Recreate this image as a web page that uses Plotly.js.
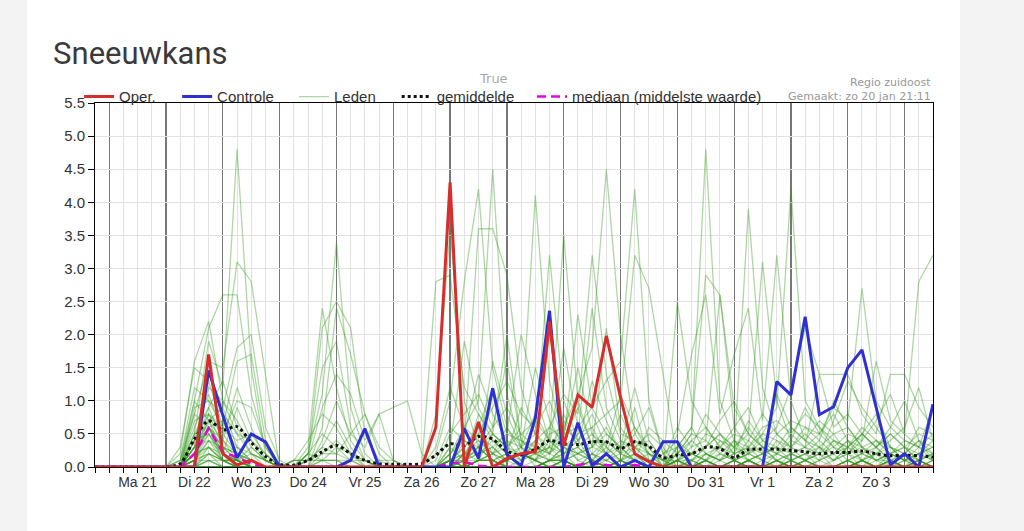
<!DOCTYPE html>
<html><head><meta charset="utf-8">
<script src="https://cdn.plot.ly/plotly-3.0.1.min.js"></script>
<style>
html,body{margin:0;padding:0;background:#f3f3f3;width:1024px;height:531px;overflow:hidden;}
#chart{position:absolute;left:27px;top:0;width:933px;height:531px;background:#fff;}
</style></head><body><div id="chart"></div>
<script>
// ---- tijdas (6-uurlijkse stappen) ----
const tijden = [
'2019-01-20 18:00',
'2019-01-21 00:00','2019-01-21 06:00','2019-01-21 12:00','2019-01-21 18:00',
'2019-01-22 00:00','2019-01-22 06:00','2019-01-22 12:00','2019-01-22 18:00',
'2019-01-23 00:00','2019-01-23 06:00','2019-01-23 12:00','2019-01-23 18:00',
'2019-01-24 00:00','2019-01-24 06:00','2019-01-24 12:00','2019-01-24 18:00',
'2019-01-25 00:00','2019-01-25 06:00','2019-01-25 12:00','2019-01-25 18:00',
'2019-01-26 00:00','2019-01-26 06:00','2019-01-26 12:00','2019-01-26 18:00',
'2019-01-27 00:00','2019-01-27 06:00','2019-01-27 12:00','2019-01-27 18:00',
'2019-01-28 00:00','2019-01-28 06:00','2019-01-28 12:00','2019-01-28 18:00',
'2019-01-29 00:00','2019-01-29 06:00','2019-01-29 12:00','2019-01-29 18:00',
'2019-01-30 00:00','2019-01-30 06:00','2019-01-30 12:00','2019-01-30 18:00',
'2019-01-31 00:00','2019-01-31 06:00','2019-01-31 12:00','2019-01-31 18:00',
'2019-02-01 00:00','2019-02-01 06:00','2019-02-01 12:00','2019-02-01 18:00',
'2019-02-02 00:00','2019-02-02 06:00','2019-02-02 12:00','2019-02-02 18:00',
'2019-02-03 00:00','2019-02-03 06:00','2019-02-03 12:00','2019-02-03 18:00',
'2019-02-04 00:00','2019-02-04 06:00','2019-02-04 12:00'];
const middernacht = ['2019-01-21','2019-01-22','2019-01-23','2019-01-24','2019-01-25','2019-01-26','2019-01-27','2019-01-28','2019-01-29','2019-01-30','2019-01-31','2019-02-01','2019-02-02','2019-02-03','2019-02-04'];
const dagMidden = ['2019-01-21 12:00','2019-01-22 12:00','2019-01-23 12:00','2019-01-24 12:00','2019-01-25 12:00','2019-01-26 12:00','2019-01-27 12:00','2019-01-28 12:00','2019-01-29 12:00','2019-01-30 12:00','2019-01-31 12:00','2019-02-01 12:00','2019-02-02 12:00','2019-02-03 12:00'];
const dagen = ['Ma 21','Di 22','Wo 23','Do 24','Vr 25','Za 26','Zo 27','Ma 28','Di 29','Wo 30','Do 31','Vr 1','Za 2','Zo 3'];
const yTicks = [0,0.5,1,1.5,2,2.5,3,3.5,4,4.5,5,5.5];

// ---- reeksen ----
const oper = [0,0,0,0,0,0, 0,0,1.7,0.2,0.03,0.1,0,0, 0,0,0,0,0,0,0,0,0,0,
 0.6,4.3,0,0.68,0,0.13,0.2,0.23,2.2,0.32,1.09,0.9,1.98,1.05,0.2,0.08,0,
 0,0,0,0,0,0,0,0,0,0,0,0,0,0,0,0,0,0,0];
const controle = [0,0,0,0,0,0, 0,0,1.46,0.78,0.14,0.5,0.38,0, 0,0,0,0,0.1,0.58,0,0,0,0,
 0,0,0.58,0.13,1.19,0.19,0.02,0.74,2.36,0,0.67,0.02,0.2,0,0.1,0,0.38,
 0.38,0,0,0,0,0,0,1.29,1.09,2.27,0.79,0.91,1.5,1.77,0.9,0.03,0.2,0,0.95];
const gemiddelde = [0,0,0,0,0,0, 0.05,0.42,0.7,0.56,0.61,0.37,0.16,0.04, 0.03,0.1,0.23,0.33,0.2,0.1,0.05,0.04,0.04,0.05,
 0.18,0.35,0.32,0.46,0.42,0.24,0.18,0.27,0.4,0.35,0.34,0.38,0.38,0.28,0.38,0.31,0.14,
 0.18,0.2,0.3,0.28,0.14,0.26,0.27,0.27,0.25,0.23,0.2,0.22,0.22,0.24,0.2,0.17,0.18,0.17,0.15];
const mediaan = [0,0,0,0,0,0, 0,0.2,0.58,0.22,0.15,0.05,0,0, 0,0,0,0,0,0,0,0,0,0,
 0,0.05,0.08,0.02,0,0,0,0,0,0,0.03,0.06,0.03,0,0.03,0,0,
 0,0,0,0,0,0,0,0,0,0,0,0,0,0,0,0,0,0,0];

// ---- ensembleleden ----
const lid01 = [0,0,0,0,0,0, 0.2,1.6,2.2,1.0,0.5,0.2,0.1,0, 0,0,0,0,0,0,0,0,0,0, 0,0,0,0.1,0.1,0,0,0,0,0.1,0,0,0,0,0,0,0, 0,0,0,0,0,0.1,0,0,0,0,0,0,0,0.1,0,0,0,0,0];
const lid02 = [0,0,0,0,0,0, 0.1,1.0,2.1,2.6,2.6,1.1,0.3,0, 0,0.1,0.1,0.1,0.1,0,0,0,0,0, 0,0,0,0,0,0.1,0.2,0.1,0,0,0,0.1,0,0,0,0,0, 0,0,0.1,0,0,0,0,0.1,0,0,0,0,0,0,0,0.1,0,0,0];
const lid03 = [0,0,0,0,0,0, 0,0.5,1.9,1.2,4.8,1.5,0.2,0, 0,0,0,0,0,0,0,0,0,0, 0,0,0,0,0,0,0,0,0,0,0,0,0,0,0,0,0, 0,0,0,0,0.1,0,0,0,0,0.1,0,0,0,0,0,0,0,0.1,0];
const lid04 = [0,0,0,0,0,0, 0.1,0.8,1.6,1.5,3.1,2.8,1.4,0, 0,0,0,0,0,0,0,0,0,0, 0,0.1,0,0,0,0,0,0,0.1,0.1,0,0,0,0.1,0,0,0, 0,0,0,0,0,0,0,0,0,0,0,0,0,0,0,0,0,0,0];
const lid05 = [0,0,0,0,0,0, 0,0.3,1.4,0.9,1.8,2.0,0.6,0.1, 0,0.3,2.4,1.2,0.4,0.1,0,0,0,0, 0,0,0,0.1,0.1,0,0,0,0,0.1,0,0,0,0,0,0,0, 0,0,0,0,0,0.1,0,0,0,0,0,0,0,0.1,0,0,0,0,0];
const lid06 = [0,0,0,0,0,0, 0.3,1.5,1.3,0.6,1.6,1.7,0.4,0, 0,0,0,0,0,0,0,0,0,0, 0,0,0,0,0,0.1,0.2,0.1,0,0,0,0.1,0,0,0,0,0, 0.1,0,0,0,0,0,0,0,0.1,0,0,0,0.1,0,0,0,0,0,0];
const lid07 = [0,0,0,0,0,0, 0,0.4,1.2,1.0,0.7,0.3,0.1,0, 0,0,0,0,0,0,0,0,0,0, 0,0,0,0,0,0,0,0,0,0,0,0,0,0,0,0,0, 0,0,0.1,0,0,0,0,0.1,0,0,0,0,0,0,0,0.1,0,0,0];
const lid08 = [0,0,0,0,0,0, 0,0.6,1.1,0.5,1.0,0.9,0.3,0, 0,0,0,0,0,0,0,0,0,0, 0,0.1,0,0,0,0,0,0,0.1,0.1,0,0,0,0.1,0,0,0, 0,0,0,0,0.1,0,0,0,0,0.1,0,0,0,0,0,0,0,0.1,0];
const lid09 = [0,0,0,0,0,0, 0.1,1.2,1.0,0.6,0.3,0.1,0,0, 0,0.2,1.1,3.4,0.9,0.2,0,0,0,0, 0,0,0,0.1,0.1,0,0,0,0,0.1,0,0,0,0,0,0,0, 0,0,0,0,0,0,0,0,0,0,0,0,0,0,0,0,0,0,0];
const lid10 = [0,0,0,0,0,0, 0,0.9,1.0,0.8,0.5,0.4,0.2,0, 0,0,0,0,0,0,0,0,0,0, 0,0,0,0,0,0,0,0,0,0,0,0,0,0,0,0,0, 0.1,0,0,0,0,0,0,0,0.1,0,0,0,0.1,0,0,0,0,0,0];
const lid11 = [0,0,0,0,0,0, 0,0.3,0.9,1.3,0.6,0.2,0,0, 0.1,0.1,0.1,0,0,0,0,0,0,0, 0.2,1.0,2.8,4.2,1.5,0.6,0.2,0.1,0.4,0.3,0.1,0,0.2,0.3,0.1,0,0, 0,0,0,0,0,0.1,0,0,0,0,0,0,0,0.1,0,0,0,0,0];
const lid12 = [0,0,0,0,0,0, 0,0.5,0.9,0.4,0.2,0.1,0,0, 0,0,0,0,0,0,0,0,0,0, 2.8,2.9,1.2,0.8,0.5,2.0,0.4,0.2,0.3,0.1,0.2,0.4,0.2,0,0,0.1,0, 0,0,0.1,0,0,0,0,0.1,0,0,0,0,0,0,0,0.1,0,0,0];
const lid13 = [0,0,0,0,0,0, 0,0.7,0.8,0.3,0.1,0,0,0, 0,0,0,0,0,0,0,0,0,0, 0.1,0.6,0.4,3.6,3.6,2.9,1.2,0.5,0.2,0.8,0.3,0.1,0,0.1,0.2,0,0, 0,0,0,0,0,0,0,0,0,0,0,0,0,0,0,0,0,0,0];
const lid14 = [0,0,0,0,0,0, 0,0.2,0.8,0.6,0.4,0.5,0.2,0, 0,0.1,2.1,2.5,2.1,0.5,0.1,0,0,0, 0,0.3,1.9,0.9,0.5,0.3,0.6,4.1,1.3,0.4,0.2,0.3,0.6,0.2,0.1,0,0, 0,0,0,0,0.1,0,0,0,0,0.1,0,0,0,0,0,0,0,0.1,0];
const lid15 = [0,0,0,0,0,0, 0,0.4,0.8,0.5,0.2,0,0,0, 0,0,0,0,0,0,0,0,0,0, 0,0.2,0.5,1.4,0.8,0.4,0.3,0.5,3.2,1.0,0.4,0.1,0.3,0.1,0.4,0.2,0, 0.1,0,0,0,0,0,0,0,0.1,0,0,0,0.1,0,0,0,0,0,0];
const lid16 = [0,0,0,0,0,0, 0,0.3,0.7,0.4,1.2,0.6,0.1,0, 0,0,0.1,0.1,0,0,0.1,0.1,0,0, 0,0.1,0.3,0.6,1.2,0.5,2.0,1.1,0.4,3.5,1.0,0.3,0.2,0.4,0.2,0.1,0, 0,0,0,0,0,0,0,0,0,0,0,0,0,0,0,0,0,0,0];
const lid17 = [0,0,0,0,0,0, 0,1.0,0.7,0.2,0.1,0,0,0, 0,0,0,0,0,0,0,0,0,0, 0,0,0.2,0.5,0.9,1.3,0.8,0.6,1.0,0.4,2.3,0.9,0.5,0.3,0.6,0.2,0.1, 0,0,0,0,0,0.1,0,0,0,0,0,0,0,0.1,0,0,0,0,0];
const lid18 = [0,0,0,0,0,0, 0,0.2,0.7,0.9,0.3,0.2,0.1,0, 0,0,0.6,2.4,1.7,0.8,0.2,0,0,0, 0,0.1,0.1,0.3,0.5,0.3,0.2,0.4,0.6,1.1,0.8,3.2,1.4,0.5,0.4,0.3,0, 0,0,0.1,0,0,0,0,0.1,0,0,0,0,0,0,0,0.1,0,0,0];
const lid19 = [0,0,0,0,0,0, 0,0.3,0.6,0.2,0.1,0.3,0.1,0, 0,0,0,0,0,0,0,0,0,0, 0,0,0.2,0.4,0.2,0.1,0.3,0.2,0.5,0.6,1.1,1.8,4.5,2.0,0.5,0.2,0.1, 0,0,0,0,0.1,0,0,0,0,0.1,0,0,0,0,0,0,0,0.1,0];
const lid20 = [0,0,0,0,0,0, 0,0.2,0.6,0.3,0.2,0.1,0,0, 0,0,0,0,0,0,0,0,0,0, 0,0,0.1,0.2,0.3,0.5,0.4,0.3,0.2,0.5,0.6,0.9,1.3,1.6,4.2,1.0,0.2, 0,0,0,0,0,0,0,0,0,0,0,0,0,0,0,0,0,0,0];
const lid21 = [0,0,0,0,0,0, 0,0.8,0.6,0.4,0.1,0,0,0, 0,0.2,1.5,1.9,0.6,0.1,0,0,0,0, 0,0,0,0.1,0.2,0.3,0.5,0.7,0.4,0.2,0.5,0.6,0.8,1.0,3.2,2.7,1.4, 0.1,0,0,0,0,0,0,0,0.1,0,0,0,0.1,0,0,0,0,0,0];
const lid22 = [0,0,0,0,0,0, 0,0.2,0.6,0.2,0.9,0.4,0.1,0, 0,0,0,0,0,0,0,0,0,0, 0.3,1.2,0.6,0.4,0.2,0.1,0,0,0.1,0.3,0.5,2.4,0.9,0.4,0.3,0.5,0.3, 0,0,0,0,0,0.1,0,0,0,0,0,0,0,0.1,0,0,0,0,0];
const lid23 = [0,0,0,0,0,0, 0,0.1,0.6,0.7,0.2,0.1,0,0, 0,0,0,0,0,0,0,0,0,0, 0,0.5,0.8,1.1,0.6,0.9,0.5,0.3,0.2,0.1,0,0.2,0.4,0.2,0.1,0.6,0.4, 0.2,0.5,4.8,1.0,0.4,0.3,0.2,0.5,0.3,0.1,0.2,0.4,0.3,0.1,0.2,0.3,0.1,0.2,0.3];
const lid24 = [0,0,0,0,0,0, 0,0.5,0.6,0.1,0,0,0,0, 0,0,0,0,0,0,0,0,0,0, 0,0.2,0.4,0.2,1.6,0.8,0.3,1.5,0.7,0.3,0.2,0.1,0.1,0,0.2,0.1,0, 2.5,1.0,0.6,0.3,0.2,3.9,1.2,0.5,0.3,0.6,0.4,0.2,0.3,0.5,0.3,0.1,0.2,0.1,0.2];
const lid25 = [0,0,0,0,0,0, 0,0.2,0.6,0.3,0.1,0,0,0, 0,0.1,0.9,1.4,1.1,0.4,0.8,0.9,1.0,0.2, 0,0,0.1,0.8,0.4,0.2,0.1,0.3,2.0,0.6,0.4,0.8,0.3,0.1,0,0,0, 0.3,0.6,2.9,2.6,0.9,0.5,3.1,1.0,0.4,0.3,0.5,0.8,0.4,0.2,0.3,0.5,0.3,0.1,0.2];
const lid26 = [0,0,0,0,0,0, 0,0.1,0.5,0.2,0.1,0.1,0,0, 0,0,0,0,0,0,0,0,0,0, 0,0.1,0.2,0.3,0.6,1.6,0.4,0.2,0.3,0.5,1.5,0.5,0.2,0.8,0.3,0.1,0, 0.5,1.7,2.6,0.8,1.7,2.4,0.7,3.2,1.0,0.4,0.3,0.5,0.6,0.3,0.4,0.2,0.3,0.5,0.4];
const lid27 = [0,0,0,0,0,0, 0,0.4,0.5,0.2,0.3,0.1,0,0, 0,0,0,0,0,0,0,0,0,0, 0,0,0.1,0.2,0.4,0.2,0.9,0.5,0.3,1.8,0.6,0.2,0.1,0.3,1.2,0.4,0.1, 0.1,0.3,0.4,2.6,0.6,0.3,0.5,0.9,4.2,1.0,0.6,0.4,0.3,0.5,0.8,0.3,0.2,0.4,0.3];
const lid28 = [0,0,0,0,0,0, 0,0.2,0.5,0.1,0.1,0,0,0, 0,0,0.4,1.0,0.5,0.8,0.3,0.1,0,0, 0,0,0,0.1,0.2,0.6,0.3,0.8,0.4,0.2,0.3,1.3,0.7,0.2,0.5,0.9,0.2, 0.4,0.2,0.3,0.5,0.2,0.7,0.4,0.6,1.2,2.1,1.4,1.4,1.4,0.8,0.5,1.4,1.4,0.9,0.6];
const lid29 = [0,0,0,0,0,0, 0,0.1,0.4,0.2,0,0,0,0, 0,0,0,0,0,0,0,0,0,0, 0,0.1,0.3,0.5,0.3,0.1,0.2,0.1,0.6,0.4,0.9,0.3,2.1,0.6,0.3,0.2,0.1, 0.2,0.4,0.6,0.3,0.5,0.4,0.8,0.5,0.7,0.6,0.5,0.9,0.7,2.7,1.0,0.6,0.4,0.3,0.5];
const lid30 = [0,0,0,0,0,0, 0,0.3,0.4,0.1,0.1,0.2,0.1,0, 0.1,0.4,0.8,0.6,0.2,0,0,0,0,0, 0,0,0.2,0.1,0.5,0.3,0.1,0.4,0.2,0.7,0.3,0.5,0.3,1.1,0.6,0.3,0, 0.1,0.2,0.5,0.4,0.3,0.6,0.3,0.2,0.5,0.8,0.6,0.3,0.5,0.4,1.6,0.7,0.5,2.8,3.2];
const lid31 = [0,0,0,0,0,0, 0,0.1,0.4,0.3,0.2,0,0,0, 0,0,0,0,0,0,0,0,0,0, 0,0.3,0.1,0.6,0.2,0.4,0.1,0.2,0.1,0.3,0.2,0.1,0.4,0.2,0.9,0.1,0.2, 0.3,0.6,0.2,0.1,0.4,0.2,0.5,0.4,0.2,0.3,1.4,0.6,0.8,0.5,0.3,0.6,1.0,0.4,0.2];
const lid32 = [0,0,0,0,0,0, 0,0.2,0.3,0.1,0,0,0,0, 0,0,0,0,0,0,0,0,0,0, 0,0,0.4,0.3,0.1,0.2,0.3,0.1,0.3,0.2,0.4,0.6,0.2,0.1,0.3,0.4,0.1, 0.6,0.3,0.8,0.5,0.3,0.1,0.2,1.1,0.6,0.4,0.2,0.7,1.3,0.9,0.6,0.3,0.2,0.6,0.5];
const lid33 = [0,0,0,0,0,0, 0,0.1,0.3,0.2,0.1,0,0,0, 0,0.2,0.5,0.3,0.1,0.1,0,0,0,0, 0,0.1,0.2,0.2,0.3,0.1,0.2,0.3,0.1,0.1,0.2,0.3,0.5,0.3,0.1,0.2,0, 0.2,0.1,0.3,0.7,1.0,0.5,0.3,0.2,0.4,0.9,0.5,0.3,0.2,0.4,0.7,1.1,0.5,0.3,0.1];
const lid34 = [0,0,0,0,0,0, 0,0,0.3,0.1,0,0,0,0, 0,0,0,0,0,0,0,0,0,0, 0,0,0.1,0.3,0.1,0.2,0,0.1,0.2,0.4,0.1,0.2,0.1,0.2,0.3,0.1,0, 0.1,0.4,0.2,0.3,0.6,0.9,0.4,0.3,0.1,0.2,0.4,1.0,0.6,0.3,0.2,0.4,0.6,1.2,0.4];
const lid35 = [0,0,0,0,0,0, 0,0.2,0.3,0.1,0.1,0,0,0, 0,0,0,0,0,0,0,0,0,0, 0,0.1,0.1,0.1,0.2,0,0.1,0.2,0.1,0.2,0.3,0.1,0,0.1,0.2,0,0, 0.3,0.2,0.1,0.4,0.2,0.3,0.6,0.7,0.5,0.3,0.2,0.1,0.3,0.6,0.4,0.2,0.1,0.3,0.9];
const lid36 = [0,0,0,0,0,0, 0,0,0.2,0.1,0,0,0,0, 0,0.1,0.3,0.7,0.3,0,0,0,0,0, 0.8,3.6,1.0,0.3,0.1,0,0,0,0.1,0,0,0.2,0,0,0,0,0, 0.2,0.5,0.4,0.2,0.1,0.4,0.2,0.3,0.6,0.4,0.7,0.5,0.2,0.1,0.3,0.5,0.3,0.2,0.4];
const lid37 = [0,0,0,0,0,0, 0,0.1,0.2,0,0,0,0,0, 0,0,0,0,0,0,0,0,0,0, 0,0.2,0.6,1.0,4.5,1.1,0.3,0,0.1,0.2,0,0,0.1,0,0,0,0, 0,0.1,0.3,0.5,0.3,0.2,0.1,0.4,0.3,0.5,0.3,0.2,0.4,0.3,0.1,0.2,0.4,0.3,0.2];
const lid38 = [0,0,0,0,0,0, 0,0,0.2,0.1,0.1,0,0,0, 0,0,0,0,0,0,0,0,0,0, 0,0,0,0.1,0.1,0,0,0,0,0.1,0,0,0,0,0,0,0, 0.1,0,0.2,0.1,0.3,0.5,0.3,0.1,0.2,0.3,0.1,0.4,0.2,0.5,0.3,0.1,0.2,0.4,0.1];
const lid39 = [0,0,0,0,0,0, 0,0.1,0.2,0.1,0,0,0,0, 0.1,0.1,0.2,0.4,0.2,0.1,0,0,0,0, 0,0,0,0,0,0.1,0.2,0.1,0,0,0,0.1,0,0,0,0,0, 0,0.2,0.1,0.3,0.1,0.2,0.4,0.2,0.1,0.2,0.3,0.1,0.3,0.2,0.4,0.3,0.1,0.2,0.3];
const lid40 = [0,0,0,0,0,0, 0,0,0.1,0,0,0,0,0, 0,0,0,0,0,0,0,0,0,0, 0,0.1,0,0,0,0,0,0,0.1,0.1,0,0,0,0.1,0,0,0, 0.2,0.1,0,0.2,0.4,0.1,0.2,0.3,0.2,0.1,0.2,0.3,0.1,0.2,0.1,0.2,0.3,0.1,0.2];
const lid41 = [0,0,0,0,0,0, 0,0.1,0.1,0,0,0,0,0, 0,0,0,0,0,0,0,0,0,0, 0,0,0,0,0,0,0,0,0,0,0,0,0,0,0,0,0, 0,0,0.2,0.1,0.2,0.3,0.1,0.2,0.3,0.2,0.1,0.2,0.4,0.1,0.2,0.1,0,0.2,0.1];
const lid42 = [0,0,0,0,0,0, 0,0,0.1,0.1,0,0,0,0, 0,0,0.2,0.2,0.5,0.3,0.8,0.1,0,0, 0,0,0,0.1,0.1,0,0,0,0,0.1,0,0,0,0,0,0,0, 0.1,0.2,0.1,0,0.1,0.2,0.3,0.1,0.2,0.1,0.3,0.1,0.2,0.3,0.1,0.2,0.1,0,0.1];
const lid43 = [0,0,0,0,0,0, 0,0,0.1,0,0,0,0,0, 0,0,0,0,0,0,0,0,0,0, 0,0,0,0,0,0.1,0.2,0.1,0,0,0,0.1,0,0,0,0,0, 0,0.1,0.2,0.1,0,0.1,0.2,0.1,0,0.1,0.2,0,0.1,0.2,0.1,0,0.1,0.2,0.1];
const lid44 = [0,0,0,0,0,0, 0,0,0,0,0,0,0,0, 0,0,0,0,0,0,0,0,0,0, 0,0,0,0,0,0,0,0,0,0,0,0,0,0,0,0,0, 0.1,0,0.1,0.2,0.1,0,0.1,0,0.2,0.1,0,0.1,0.2,0,0.1,0.1,0,0.1,0];
const lid45 = [0,0,0,0,0,0, 0,0,0,0,0,0,0,0, 0,0.2,0.1,0.1,0,0,0,0,0,0, 0,0.1,0,0,0,0,0,0,0.1,0.1,0,0,0,0.1,0,0,0, 0,0.1,0,0.1,0.2,0.1,0,0.2,0.1,0,0.1,0.2,0,0.1,0,0.2,0.1,0,0.1];
const lid46 = [0,0,0,0,0,0, 0,0,0,0,0,0,0,0, 0,0,0,0,0,0,0,0,0,0, 0,0,0,0.1,0.1,0,0,0,0,0.1,0,0,0,0,0,0,0, 0,0,0.1,0,0.1,0.2,0.1,0,0.1,0.2,0,0,0.1,0,0.2,0,0.1,0.1,0];
const lid47 = [0,0,0,0,0,0, 0,0,0,0,0,0,0,0, 0.1,0.1,0.3,0.2,0.1,0,0,0,0,0, 0,0,0,0,0,0,0,0,0,0,0,0,0,0,0,0,0, 0.1,0.1,0,0,0,0.1,0,0.1,0,0,0.1,0,0,0.1,0,0.1,0,0,0.1];
const lid48 = [0,0,0,0,0,0, 0,0,0,0,0,0,0,0, 0,0,0,0,0,0,0,0,0,0, 0,0,0,0,0,0.1,0.2,0.1,0,0,0,0.1,0,0,0,0,0, 0,0,0,0,0,0.1,0,0,0,0,0,0,0,0.1,0,0,0,0,0];
const lid49 = [0,0,0,0,0,0, 0,0,0,0,0,0,0,0, 0,0,0.1,0.3,0.2,0.1,0,0,0,0, 0,0.1,0,0,0,0,0,0,0.1,0.1,0,0,0,0.1,0,0,0, 0,0,0.1,0,0,0,0,0.1,0,0,0,0,0,0,0,0.1,0,0,0];
const lid50 = [0,0,0,0,0,0, 0,0,0,0,0,0,0,0, 0,0,0,0,0,0,0,0,0,0, 0,0,0,0,0,0,0,0,0,0,0,0,0,0,0,0,0, 0,0,0,0,0,0,0,0,0,0,0,0,0,0,0,0,0,0,0];
const leden = [lid01,lid02,lid03,lid04,lid05,lid06,lid07,lid08,lid09,lid10,lid11,lid12,lid13,lid14,lid15,lid16,lid17,lid18,lid19,lid20,
 lid21,lid22,lid23,lid24,lid25,lid26,lid27,lid28,lid29,lid30,lid31,lid32,lid33,lid34,lid35,lid36,lid37,lid38,lid39,lid40,
 lid41,lid42,lid43,lid44,lid45,lid46,lid47,lid48,lid49,lid50];

// ---- opbouw ----
const FONT = 'Liberation Sans, Arial, sans-serif';
const data = [];
leden.forEach((lid, k) => {
  if (lid.length !== tijden.length) console.warn('lengte lid', k + 1, lid.length);
  data.push({x: tijden, y: lid, type: 'scatter', mode: 'lines', name: 'Leden',
    legend: 'legend3', legendgroup: 'leden', showlegend: k === 0,
    line: {color: 'rgba(45,150,20,0.38)', width: 1.3}, hoverinfo: 'skip'});
});
data.push({x: tijden, y: mediaan, type: 'scatter', mode: 'lines', name: 'mediaan (middelste waarde)', legend: 'legend5',
  line: {color: 'rgb(230,0,230)', width: 2.5, dash: '9px,5px'}});
data.push({x: tijden, y: gemiddelde, type: 'scatter', mode: 'lines', name: 'gemiddelde', legend: 'legend4',
  line: {color: '#111', width: 3, dash: '3px,3px', shape: 'spline', smoothing: 0.8}});
data.push({x: tijden, y: controle, type: 'scatter', mode: 'lines', name: 'Controle', legend: 'legend2',
  line: {color: 'rgb(48,48,210)', width: 3}});
data.push({x: tijden, y: oper, type: 'scatter', mode: 'lines', name: 'Oper.', legend: 'legend',
  line: {color: 'rgb(214,45,45)', width: 3}});
// lege reeks op de label-as (dagnamen midden op de dag)
data.push({x: dagMidden, y: dagMidden.map(() => null), xaxis: 'x2', yaxis: 'y', type: 'scatter', mode: 'lines',
  showlegend: false, hoverinfo: 'skip'});

function legendAt(x) {
  return {x: x, y: 1.017, xref: 'paper', yref: 'paper', xanchor: 'left', yanchor: 'middle', orientation: 'h',
    bgcolor: 'rgba(0,0,0,0)', borderwidth: 0, font: {family: FONT, size: 15, color: '#333'}};
}
const xRange = [tijden[0], tijden[tijden.length - 1]];

const layout = {
  width: 933, height: 531,
  margin: {l: 68, r: 27, t: 103, b: 64},
  paper_bgcolor: '#ffffff', plot_bgcolor: '#ffffff',
  font: {family: FONT, color: '#333'},
  hovermode: false,
  showlegend: true,
  title: {text: 'Sneeuwkans', xref: 'container', yref: 'container', x: 0.028, xanchor: 'left', y: 0.9, yanchor: 'middle',
    font: {family: 'Roboto, sans-serif', size: 31, color: '#3a3a3a'}},
  legend: legendAt(-0.019),
  legend2: legendAt(0.098),
  legend3: legendAt(0.2375),
  legend4: legendAt(0.36),
  legend5: legendAt(0.5215),
  xaxis: {
    type: 'date', range: xRange, fixedrange: true,
    tickmode: 'array', tickvals: middernacht, showticklabels: false,
    ticks: 'outside', ticklen: 5, tickcolor: '#000', tickwidth: 1,
    showgrid: true, gridcolor: '#777', gridwidth: 1.2,
    minor: {tickmode: 'linear', tick0: '2019-01-21', dtick: 6 * 3600 * 1000, ticks: 'outside', ticklen: 5, tickcolor: '#000',
      showgrid: true, gridcolor: '#e2e2e2', gridwidth: 1},
    showline: true, linecolor: '#000', linewidth: 1, mirror: true, zeroline: false
  },
  xaxis2: {
    type: 'date', range: xRange, fixedrange: true, overlaying: 'x', anchor: 'y', side: 'bottom',
    tickmode: 'array', tickvals: dagMidden, ticktext: dagen, ticks: '', ticklabelstandoff: 5,
    showgrid: false, showline: false, zeroline: false,
    tickfont: {family: FONT, size: 14, color: '#333'}
  },
  yaxis: {
    range: [0, 5.5], fixedrange: true, tickmode: 'array', tickvals: yTicks, tickformat: '.1f',
    ticks: 'outside', ticklen: 6, tickcolor: '#000',
    showgrid: true, gridcolor: '#e2e2e2', gridwidth: 1,
    showline: true, linecolor: '#000', linewidth: 1, mirror: true, zeroline: false,
    tickfont: {family: FONT, size: 15, color: '#333'}
  },
  annotations: [
    {text: 'Regio zuidoost', xref: 'paper', yref: 'paper', x: 1, y: 1.055, xanchor: 'right', yanchor: 'middle', showarrow: false,
      font: {family: 'DejaVu Sans, sans-serif', size: 11, color: '#999'}},
    {text: 'Gemaakt: zo 20 jan 21:11', xref: 'paper', yref: 'paper', x: 1, y: 1.0165, xanchor: 'right', yanchor: 'middle', showarrow: false,
      font: {family: 'DejaVu Sans, sans-serif', size: 11, color: '#999'}},
    {text: 'True', xref: 'paper', yref: 'paper', x: 0.476, y: 1.068, xanchor: 'center', yanchor: 'middle', showarrow: false,
      font: {family: 'DejaVu Sans, sans-serif', size: 13, color: '#aaa'}}
  ]
};

Plotly.newPlot('chart', data, layout, {displayModeBar: false, staticPlot: true});
</script></body></html>
